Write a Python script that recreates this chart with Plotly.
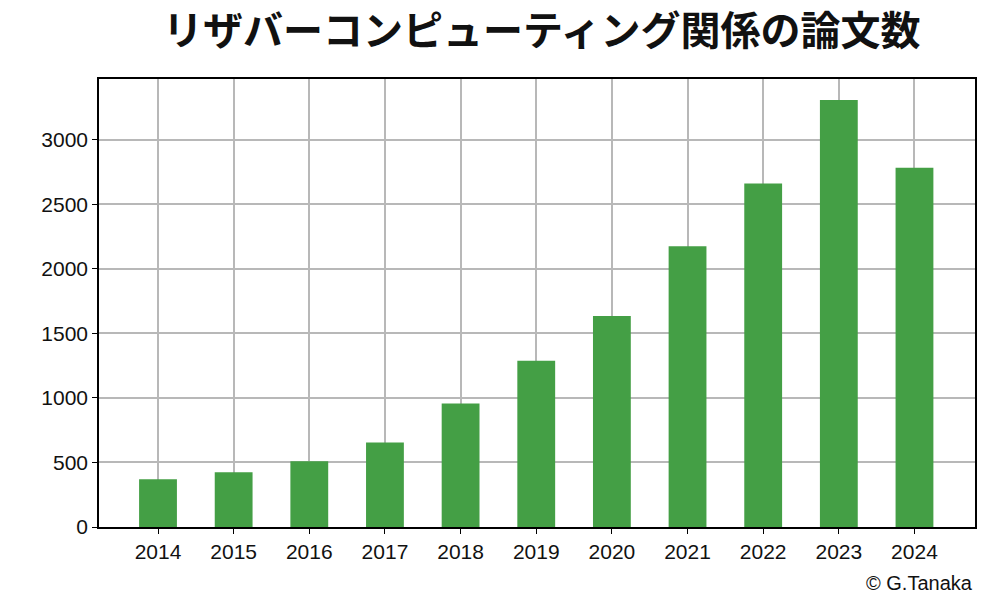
import plotly.graph_objects as go

years = ["2014", "2015", "2016", "2017", "2018", "2019", "2020", "2021", "2022", "2023", "2024"]
papers = [370, 424, 509, 655, 956, 1288, 1635, 2174, 2660, 3308, 2783]
y_ticks = [0, 500, 1000, 1500, 2000, 2500, 3000]

fig = go.Figure()
fig.add_trace(go.Bar(x=list(range(len(years))), y=papers, width=0.5,
                     marker=dict(color="#449F45", line=dict(width=0))))

fig.update_layout(
    width=1007, height=612,
    margin=dict(l=91, r=40, t=71, b=93),
    paper_bgcolor="white", plot_bgcolor="white",
    font=dict(family="Liberation Sans, Arial", size=21, color="#111"),
    title=dict(text="<b>リザバーコンピューティング関係の論文数</b>", x=0.53, xanchor="center",
               y=0.985, yanchor="top",
               font=dict(family="Noto Sans CJK JP", size=40, color="#111")),
    showlegend=False,
)
fig.update_xaxes(range=[-0.78, 10.8], tickvals=list(range(len(years))), ticktext=years,
                 showgrid=True, gridcolor="#b8b8b8", gridwidth=1.5,
                 showline=True, linecolor="black", linewidth=1.5, mirror=True,
                 ticks="outside", ticklen=5, tickcolor="black")
fig.update_yaxes(range=[0, 3470], tickvals=y_ticks,
                 showgrid=True, gridcolor="#b8b8b8", gridwidth=1.5, zeroline=False,
                 showline=True, linecolor="black", linewidth=1.5, mirror=True,
                 ticks="outside", ticklen=5, tickcolor="black")
fig.add_annotation(text="© G.Tanaka", xref="paper", yref="paper", x=1.0, y=-0.125,
                   xanchor="right", yanchor="middle", showarrow=False,
                   font=dict(size=20, color="#111"))

fig.write_html("out.html")
